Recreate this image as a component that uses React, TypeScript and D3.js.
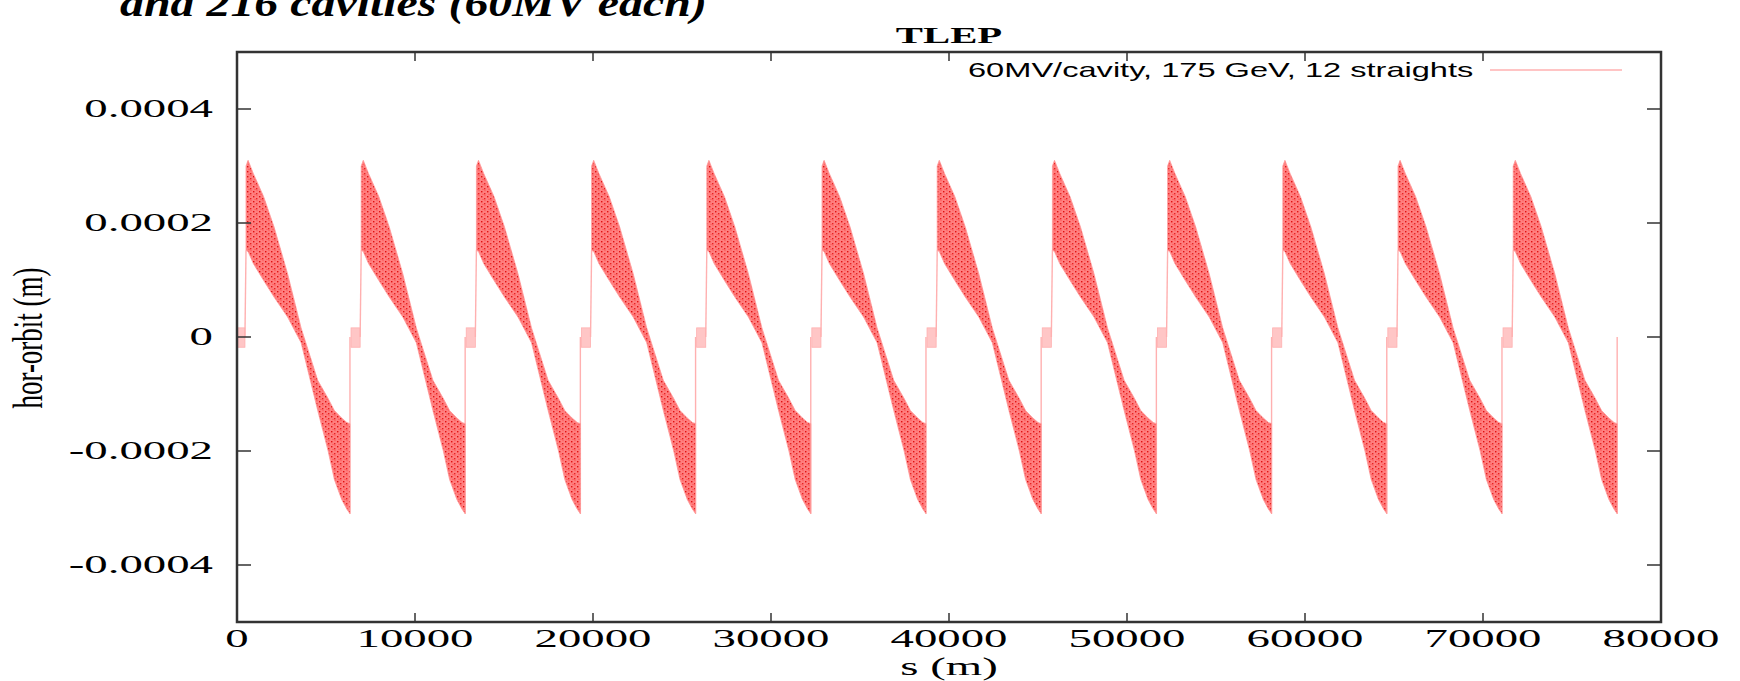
import React from 'react';
import * as d3 from 'd3';

// ---- data ----
const xTicks = [0, 10000, 20000, 30000, 40000, 50000, 60000, 70000, 80000];
const yTicks = [-0.0004, -0.0002, 0, 0.0002, 0.0004];
const yTickLabels = ['-0.0004', '-0.0002', '0', '0.0002', '0.0004'];

// arcs between the 12 straights (s in m)
const arcStart = [506, 6978, 13450, 19922, 26394, 32866, 39338, 45810, 52282, 58754, 65226, 71698];
const arcEnd = [6346, 12818, 19290, 25762, 32234, 38706, 45178, 51650, 58122, 64594, 71066, 77538];

// envelope of the orbit band inside one arc (fraction of arc, orbit in m)
const arcFrac = [0, 0.02, 0.07, 0.17, 0.27, 0.4, 0.53, 0.69, 0.79, 0.85, 0.92, 0.97, 1];
const bandUpper = [3.0e-4, 3.1e-4, 2.87e-4, 2.46e-4, 1.93e-4, 1.11e-4, 0.16e-4, -0.76e-4, -1.08e-4, -1.29e-4, -1.42e-4, -1.5e-4, -1.52e-4];
const bandLower = [1.52e-4, 1.5e-4, 1.29e-4, 0.99e-4, 0.7e-4, 0.35e-4, -0.1e-4, -1.29e-4, -2.0e-4, -2.5e-4, -2.85e-4, -3.02e-4, -3.1e-4];

// orbit inside the straight sections
const straightLow = -0.000018;
const straightHigh = 0.000016;

const legendLabel = '60MV/cavity, 175 GeV, 12 straights';

const W = 1740;
const H = 681;
const left = 237, right = 1661, top = 52, bottom = 622;

const SText = ({ x, y, sx, anchor = 'start', size, family, weight = 'normal', italic = false, rotate = 0, children }: any) => (
  <text
    transform={`translate(${x},${y}) scale(${sx},1)${rotate ? ` rotate(${rotate})` : ''}`}
    textAnchor={anchor}
    fontSize={size}
    fontFamily={family}
    fontWeight={weight}
    fontStyle={italic ? 'italic' : 'normal'}
    fill="#000"
  >
    {children}
  </text>
);

export default function App() {
  const x = d3.scaleLinear().domain([0, 80000]).range([left, right]);
  const y = d3.scaleLinear().domain([-0.0005, 0.0005]).range([bottom, top]);

  const serif = "'Liberation Serif', 'Times New Roman', serif";
  const sans = "'Liberation Sans', Arial, sans-serif";

  const area = d3.area<any>()
    .x(d => x(d.s))
    .y0(d => y(d.lo))
    .y1(d => y(d.hi));

  const line = d3.line<any>().x(d => x(d[0])).y(d => y(d[1]));

  const bands = arcStart.map((s0, i) =>
    arcFrac.map((f, j) => ({ s: s0 + f * (arcEnd[i] - s0), hi: bandUpper[j], lo: bandLower[j] }))
  );

  const boxes = arcStart.map((s0, i) => ({ from: i === 0 ? 0 : arcEnd[i - 1] + 60, to: s0 - 60 }));

  const pink = '#ffb0b0';

  return (
    <svg width={W} height={H} style={{ position: 'absolute', left: 0, top: 0, background: '#fff' }}>
      <defs>
        <pattern id="speckle" width="6" height="5" patternUnits="userSpaceOnUse">
          <rect width="6" height="5" fill="#ff8080" />
          <rect x="1" y="1" width="1.4" height="1.4" fill="#e01010" />
          <rect x="4" y="3" width="1.4" height="1.4" fill="#e82020" />
          <rect x="2.5" y="3.8" width="1" height="1" fill="#ff4040" />
          <rect x="4.5" y="0.2" width="1" height="1" fill="#ff4a4a" />
        </pattern>
      </defs>
      <rect width={W} height={H} fill="#fff" />

      <SText x={120} y={16} sx={1.26} size={38} family={serif} weight="bold" italic>
        and 216 cavities (60MV each)
      </SText>
      <SText x={(left + right) / 2} y={43} sx={1.77} anchor="middle" size={23} family={serif} weight="bold">
        TLEP
      </SText>

      {/* straight sections */}
      {boxes.map((b, i) => (
        <g key={'st' + i}>
          <rect
            x={x(b.from)}
            y={y(straightHigh)}
            width={x(b.to) - x(b.from)}
            height={y(straightLow) - y(straightHigh)}
            fill="#ffc6c6"
            stroke={pink}
            strokeWidth={0.8}
          />
          <path d={line([[b.to, 0], [arcStart[i], bandLower[0]]]) || ''} stroke={pink} strokeWidth={1.4} fill="none" />
          <path d={line([[arcEnd[i], bandLower[bandLower.length - 1]], [arcEnd[i], 0]]) || ''} stroke={pink} strokeWidth={1.4} fill="none" />
        </g>
      ))}

      {/* orbit band in the arcs */}
      {bands.map((b, i) => (
        <path key={'arc' + i} d={area(b) || ''} fill="url(#speckle)" stroke="#ff9a9a" strokeWidth={0.8} />
      ))}

      {/* frame */}
      <rect x={left} y={top} width={right - left} height={bottom - top} fill="none" stroke="#333" strokeWidth={2.5} />
      {xTicks.map(t => (
        <g key={'xt' + t} stroke="#333" strokeWidth={1.5}>
          <line x1={x(t)} x2={x(t)} y1={bottom} y2={bottom - 9} />
          <line x1={x(t)} x2={x(t)} y1={top} y2={top + 9} />
        </g>
      ))}
      {yTicks.map(t => (
        <g key={'yt' + t} stroke="#333" strokeWidth={1.5}>
          <line x1={left} x2={left + 14} y1={y(t)} y2={y(t)} />
          <line x1={right} x2={right - 14} y1={y(t)} y2={y(t)} />
        </g>
      ))}

      {xTicks.map(t => (
        <SText key={'xl' + t} x={x(t)} y={647} sx={1.8} anchor="middle" size={26} family={serif}>
          {String(t)}
        </SText>
      ))}
      {yTicks.map((t, i) => (
        <SText key={'yl' + t} x={213} y={y(t) + 8} sx={1.8} anchor="end" size={26} family={serif}>
          {yTickLabels[i]}
        </SText>
      ))}

      <SText x={(left + right) / 2} y={675} sx={1.8} anchor="middle" size={26} family={serif}>
        s (m)
      </SText>
      <SText x={42} y={338} sx={1.55} anchor="middle" size={27} family={serif} rotate={-90}>
        hor-orbit (m)
      </SText>

      {/* legend */}
      <SText x={968} y={77} sx={1.63} size={20} family={sans}>
        {legendLabel}
      </SText>
      <line x1={1490} x2={1622} y1={70} y2={70} stroke={pink} strokeWidth={1.4} />
    </svg>
  );
}
